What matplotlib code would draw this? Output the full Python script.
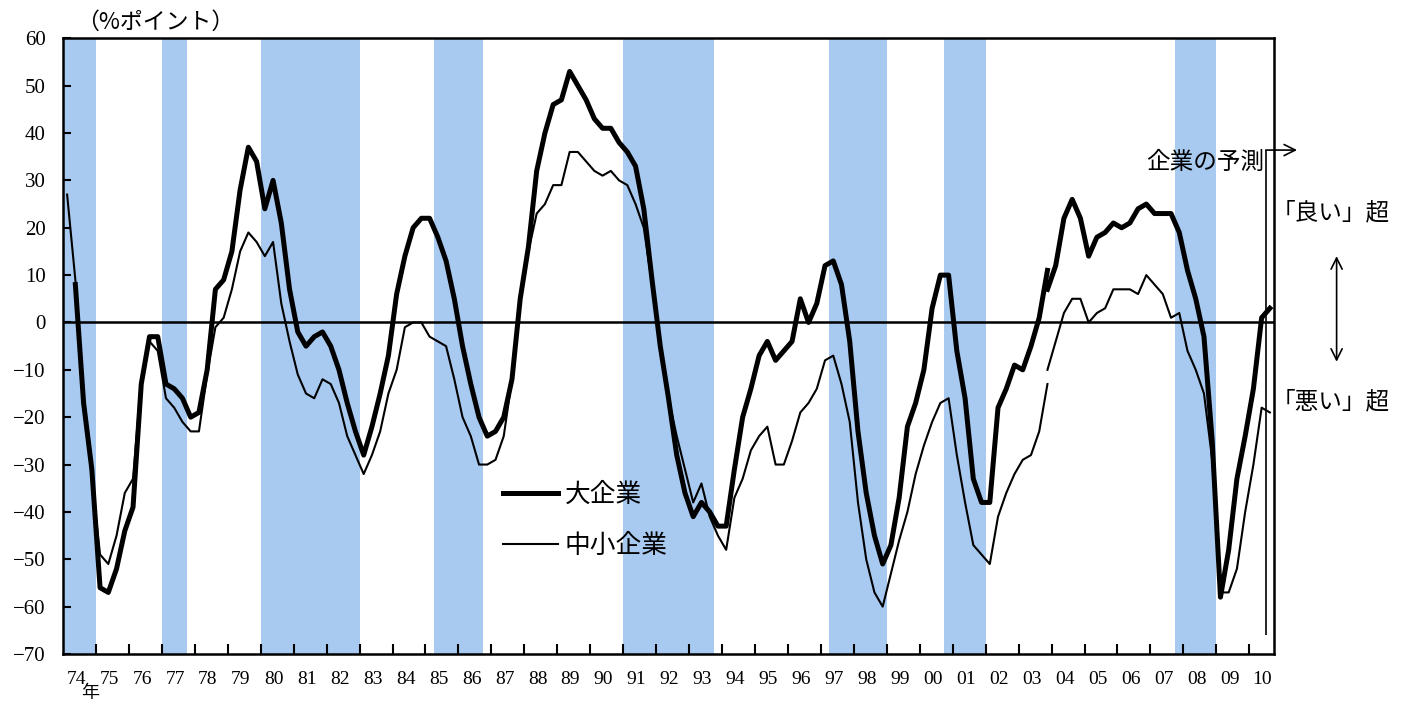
import numpy as np
import matplotlib.pyplot as plt
from matplotlib.font_manager import FontProperties
from matplotlib.transforms import blended_transform_factory

plt.rcParams["font.family"] = ["Liberation Serif", "Noto Sans CJK JP"]
plt.rcParams["axes.unicode_minus"] = True
JP = ["Noto Sans CJK JP", "DejaVu Sans"]

# Business conditions DI (%points), quarterly.
# old basis: 1974Q1 - 2003Q4
large_old = [
    np.nan, 8, -17, -31, -56, -57, -52, -44, -39, -13, -3, -3, -13, -14, -16, -20,
    -19, -10, 7, 9, 15, 28, 37, 34, 24, 30, 21, 7, -2, -5, -3, -2,
    -5, -10, -17, -23, -28, -22, -15, -7, 6, 14, 20, 22, 22, 18, 13, 5,
    -5, -13, -20, -24, -23, -20, -12, 5, 16, 32, 40, 46, 47, 53, 50, 47,
    43, 41, 41, 38, 36, 33, 24, 9, -5, -16, -28, -36, -41, -38, -40, -43,
    -43, -31, -20, -14, -7, -4, -8, -6, -4, 5, 0, 4, 12, 13, 8, -4,
    -23, -36, -45, -51, -47, -37, -22, -17, -10, 3, 10, 10, -6, -16, -33, -38,
    -38, -18, -14, -9, -10, -5, 1, 11,
]
small_old = [
    27, 9, -15, -33, -49, -51, -45, -36, -33, -12, -4, -6, -16, -18, -21, -23,
    -23, -11, -1, 1, 7, 15, 19, 17, 14, 17, 4, -4, -11, -15, -16, -12,
    -13, -17, -24, -28, -32, -28, -23, -15, -10, -1, 0, 0, -3, -4, -5, -12,
    -20, -24, -30, -30, -29, -24, -12, 6, 15, 23, 25, 29, 29, 36, 36, 34,
    32, 31, 32, 30, 29, 25, 20, 8, -5, -16, -24, -31, -38, -34, -41, -45,
    -48, -37, -33, -27, -24, -22, -30, -30, -25, -19, -17, -14, -8, -7, -13, -21,
    -38, -50, -57, -60, -53, -46, -40, -32, -26, -21, -17, -16, -28, -38, -47, -49,
    -51, -41, -36, -32, -29, -28, -23, -13,
]
# new basis: 2003Q4 - 2010Q3 (last point = firms' forecast)
large_new = [7, 12, 22, 26, 22, 14, 18, 19, 21, 20, 21, 24, 25, 23, 23, 23,
             19, 11, 5, -3, -25, -58, -48, -33, -24, -14, 1, 3]
small_new = [-10, -4, 2, 5, 5, 0, 2, 3, 7, 7, 7, 6, 10, 8, 6, 1,
             2, -6, -10, -15, -29, -57, -57, -52, -40, -30, -18, -19]

# recession periods (shaded), in years
rec_start = [1973.9, 1977.0, 1980.0, 1985.25, 1991.0, 1997.25, 2000.75, 2007.75]
rec_end = [1975.0, 1977.75, 1983.0, 1986.75, 1993.75, 1999.0, 2002.0, 2009.0]

year_labels = ["74", "75", "76", "77", "78", "79", "80", "81", "82", "83", "84", "85",
               "86", "87", "88", "89", "90", "91", "92", "93", "94", "95", "96", "97",
               "98", "99", "00", "01", "02", "03", "04", "05", "06", "07", "08", "09", "10"]

forecast_x = 2010.5
SHADE = "#A8CAF0"

x_old = 1974 + (np.arange(len(large_old)) + 0.5) / 4
x_new = 2003.75 + (np.arange(len(large_new)) + 0.5) / 4

fig = plt.figure(figsize=(14.09, 7.02), dpi=100)
ax = fig.add_axes([63 / 1409, 1 - 654 / 702, (1274 - 63) / 1409, (654 - 38.3) / 702])

for s, e in zip(rec_start, rec_end):
    ax.axvspan(s, e, color=SHADE, lw=0, zorder=0)
ax.axhline(0, color="black", lw=1.8, zorder=2)

ax.plot(x_old, large_old, color="black", lw=3.6, zorder=4, label="大企業")
ax.plot(x_new, large_new, color="black", lw=3.6, zorder=4)
ax.plot(x_old, small_old, color="black", lw=1.5, zorder=3, label="中小企業")
ax.plot(x_new, small_new, color="black", lw=1.5, zorder=3)

ax.set_xlim(1974, 2010.75)
ax.set_ylim(-70, 60)

ax.set_yticks(range(-70, 61, 10))
ax.tick_params(axis="y", direction="in", length=6, width=1.5, labelsize=15, pad=12.5)

ax.set_xticks(np.arange(1975, 2011))
ax.set_xticks(np.arange(1974, 2011) + 0.4, minor=True)
ax.set_xticklabels(year_labels, minor=True)
ax.tick_params(axis="x", which="major", direction="in", length=7, width=1.5, labelbottom=False)
ax.tick_params(axis="x", which="minor", length=0, labelsize=14, pad=12)

for sp in ax.spines.values():
    sp.set_linewidth(1.8)

trans = blended_transform_factory(ax.transData, ax.transAxes)
ax.text(1974.82, -0.064, "年", transform=trans, family=JP, fontsize=13,
        ha="center", va="center")
fig.text(76 / 1409, 1 - 22 / 702, "（%ポイント）", family=JP, fontsize=16.5,
         ha="left", va="center")

# firms' forecast marker
ax.vlines(forecast_x, -66, 36.4, color="black", lw=1.2, zorder=5)
ax.annotate("", xy=(2011.45, 36.4), xytext=(forecast_x, 36.4),
            arrowprops=dict(arrowstyle="->", lw=1.2, mutation_scale=20,
                            shrinkA=0, shrinkB=0),
            annotation_clip=False)
ax.text(2010.46, 33.9, "企業の予測", family=JP, fontsize=17, ha="right", va="center")

ax.text(2010.68, 23.1, "「良い」超", family=JP, fontsize=17, ha="left", va="center",
        clip_on=False)
ax.text(2010.68, -16.8, "「悪い」超", family=JP, fontsize=17, ha="left", va="center",
        clip_on=False)
ax.annotate("", xy=(2012.65, 14.0), xytext=(2012.65, -8.3),
            arrowprops=dict(arrowstyle="<->", lw=1.2, mutation_scale=20,
                            shrinkA=0, shrinkB=0),
            annotation_clip=False)

ax.legend(loc="center left", bbox_to_anchor=(0.3633, 0.2168), frameon=False,
          prop=FontProperties(family=JP, size=18.5), handlelength=2.14,
          handletextpad=0.25, labelspacing=1.0, borderpad=0, borderaxespad=0)

fig.savefig("out.png", dpi=100)
